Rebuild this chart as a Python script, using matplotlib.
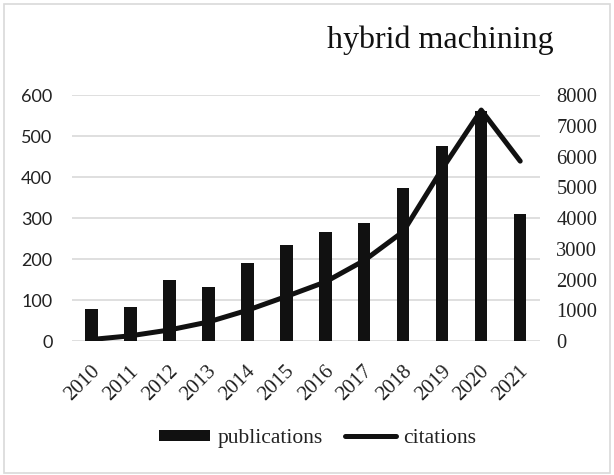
import numpy as np
import matplotlib
matplotlib.use("Agg")
import matplotlib.pyplot as plt
import matplotlib.transforms as mtransforms
from matplotlib.lines import Line2D
from matplotlib.patches import Patch, Rectangle

years = ["2010", "2011", "2012", "2013", "2014", "2015",
         "2016", "2017", "2018", "2019", "2020", "2021"]
publications = [79, 83, 149, 133, 190, 234, 265, 287, 373, 476, 562, 311]
citations = [50, 170, 360, 620, 1000, 1450, 1920, 2620, 3560, 5600, 7510, 5850]

plt.rcParams["font.family"] = ["Liberation Serif", "DejaVu Serif"]
txt = "#222222"
dark = "#111111"

fig = plt.figure(figsize=(6.14, 4.75), dpi=100)
# light frame round the whole chart
fig.patches.append(Rectangle((4 / 614, 2 / 475), 606 / 614, 469 / 475,
                             transform=fig.transFigure, fill=False,
                             edgecolor="#d9d9d9", linewidth=1.2))

ax = fig.add_axes([0.117, 0.282, 0.762, 0.518])
x = np.arange(len(years))
ax.bar(x, publications, width=0.32, color=dark, zorder=2)
ax.set_xlim(-0.5, len(years) - 0.5)
ax.set_ylim(0, 600)
ax.set_yticks(range(0, 601, 100))
ax.grid(axis="y", color="#d9d9d9", linewidth=1.2, zorder=0)
ax.set_axisbelow(True)
for s in ax.spines.values():
    s.set_visible(False)
ax.tick_params(axis="both", length=0, colors=txt)
ax.tick_params(axis="y", pad=14, labelsize=13)
ax.tick_params(axis="x", pad=20, labelsize=15)
ax.set_xticks(x)
ax.set_xticklabels(years, rotation=45, ha="right", va="center",
                   rotation_mode="anchor")
shift = mtransforms.ScaledTranslation(4 / 72, 0, fig.dpi_scale_trans)
for lbl in ax.get_xticklabels():
    lbl.set_transform(lbl.get_transform() + shift)
for lbl in ax.get_yticklabels():
    lbl.set_fontfamily("Lato")

ax2 = ax.twinx()
ax2.plot(x, citations, color=dark, linewidth=3.6,
         solid_joinstyle="round", solid_capstyle="round", zorder=3)
ax2.set_ylim(0, 8000)
ax2.set_yticks(range(0, 8001, 1000))
for s in ax2.spines.values():
    s.set_visible(False)
ax2.tick_params(axis="y", length=0, labelsize=14.8, colors=txt, pad=12)

fig.text(0.717, 0.915, "hybrid machining", fontsize=23, color=dark,
         ha="center", va="center")

handles = [Patch(facecolor=dark, edgecolor="none"),
           Line2D([0], [0], color=dark, linewidth=3.6, solid_capstyle="round")]
fig.legend(handles, ["publications", "citations"], loc="center",
           bbox_to_anchor=(0.518, 0.077), ncol=2, frameon=False,
           fontsize=15.5, handlelength=2.35, handleheight=0.42,
           handletextpad=0.35, columnspacing=1.05, labelcolor=txt)

fig.savefig("out.png", dpi=100)
